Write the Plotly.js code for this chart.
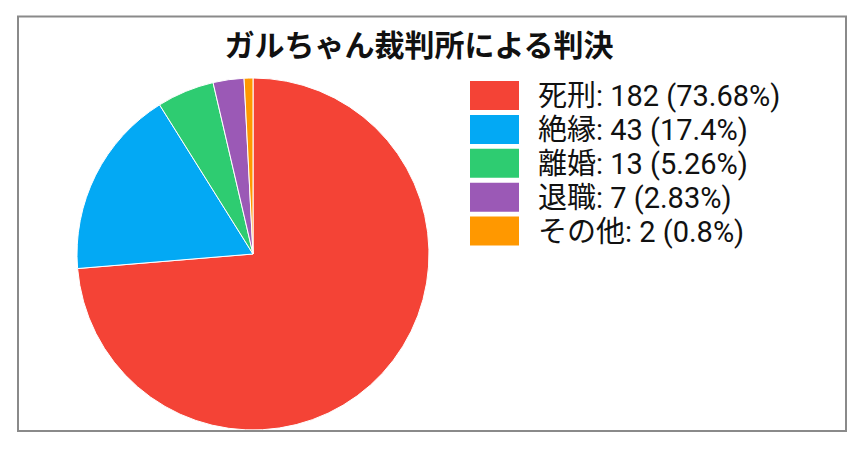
<!DOCTYPE html>
<html>
<head>
<meta charset="utf-8">
<script src="https://cdn.plot.ly/plotly-3.0.1.min.js"></script>
<style>
  html, body { margin: 0; padding: 0; background: #fff; }
  #chart { width: 863px; height: 452px; }
</style>
</head>
<body>
<div id="chart"></div>
<script>
// データ
const labels = ['死刑', '絶縁', '離婚', '退職', 'その他'];
const counts = [182, 43, 13, 7, 2];
const percents = ['73.68', '17.4', '5.26', '2.83', '0.8'];
const colors = ['#F44336', '#03A9F4', '#2ECC71', '#9B59B6', '#FF9800'];

const W = 863, H = 452;
const px = v => v / W;
const py = v => 1 - v / H;

const FONT = 'Roboto, "Noto Sans CJK JP", sans-serif';

// 凡例（四角＋テキスト）
const shapes = [{
    type: 'rect', xref: 'paper', yref: 'paper',
    x0: px(18), x1: px(846), y0: py(16.5), y1: py(431),
    line: { color: '#8a8a8a', width: 2 }, fillcolor: 'rgba(0,0,0,0)'
}];
const annotations = [];
labels.forEach((lab, i) => {
    const top = 81 + i * 33.9;
    shapes.push({
        type: 'rect', xref: 'paper', yref: 'paper',
        x0: px(470), x1: px(519), y0: py(top + 29), y1: py(top),
        line: { width: 0 }, fillcolor: colors[i]
    });
    annotations.push({
        xref: 'paper', yref: 'paper',
        x: px(536), y: py(top + 15),
        xanchor: 'left', yanchor: 'middle',
        showarrow: false,
        text: `${lab}: ${counts[i]} (${percents[i]}%)`,
        font: { family: FONT, size: 29, color: '#111' }
    });
});

const data = [{
    type: 'pie',
    labels: labels,
    values: counts,
    sort: false,
    direction: 'clockwise',
    rotation: 0,
    textinfo: 'none',
    hoverinfo: 'label+value+percent',
    marker: { colors: colors, line: { color: '#ffffff', width: 1 } },
    domain: { x: [px(77), px(429)], y: [py(430), py(78)] },
    showlegend: false
}];

const layout = {
    width: W, height: H,
    margin: { l: 0, r: 0, t: 0, b: 0 },
    paper_bgcolor: '#ffffff',
    title: {
        text: '<b>ガルちゃん裁判所による判決</b>',
        font: { family: FONT, size: 30, color: '#111' },
        x: px(419), xanchor: 'center',
        y: py(45), yanchor: 'middle'
    },
    showlegend: false,
    shapes: shapes,
    annotations: annotations
};

Plotly.newPlot('chart', data, layout, { displayModeBar: false, staticPlot: true });
</script>
</body>
</html>
